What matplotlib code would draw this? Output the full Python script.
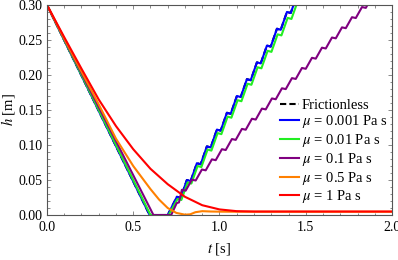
import matplotlib
matplotlib.use('Agg')
import matplotlib.pyplot as plt
from matplotlib.ticker import MultipleLocator, FormatStrFormatter

plt.rcParams['font.family'] = ['Liberation Serif', 'DejaVu Serif']
plt.rcParams['mathtext.fontset'] = 'stix'

# h(t) curves
blue_t = [0.0, 0.595, 0.700,
          0.753, 0.775, 0.811, 0.833, 0.869, 0.891, 0.927, 0.949, 0.985, 1.007,
          1.043, 1.065, 1.101, 1.123, 1.159, 1.181, 1.217, 1.239, 1.275, 1.297,
          1.333, 1.355, 1.391, 1.413, 1.449]
blue_h = [0.300, 0.000, 0.000,
          0.026, 0.0245, 0.050, 0.0485, 0.074, 0.0725, 0.098, 0.0965, 0.122, 0.1205,
          0.146, 0.1445, 0.170, 0.1685, 0.194, 0.1925, 0.218, 0.2165, 0.242, 0.2405,
          0.266, 0.2645, 0.290, 0.2885, 0.314]

green_t = [0.0, 0.600, 0.705,
           0.757, 0.779, 0.815, 0.837, 0.873, 0.895, 0.931, 0.953, 0.989, 1.011,
           1.047, 1.069, 1.105, 1.127, 1.163, 1.185, 1.221, 1.243, 1.279, 1.301,
           1.337, 1.359, 1.395, 1.417, 1.453]
green_h = [0.300, 0.000, 0.000,
           0.023, 0.0215, 0.0465, 0.045, 0.070, 0.0685, 0.0935, 0.092, 0.117, 0.1155,
           0.1405, 0.139, 0.164, 0.1625, 0.1875, 0.186, 0.211, 0.2095, 0.2345, 0.233,
           0.258, 0.2565, 0.2815, 0.280, 0.305]

purple_t = [0.0, 0.617, 0.720, 0.752, 0.765,
            0.782, 0.804, 0.840, 0.862, 0.898, 0.920, 0.956, 0.978, 1.014, 1.036,
            1.072, 1.094, 1.130, 1.152, 1.188, 1.210, 1.246, 1.268, 1.304, 1.326,
            1.362, 1.384, 1.420, 1.442, 1.478, 1.500, 1.536, 1.558, 1.594, 1.616,
            1.652, 1.674, 1.710, 1.732, 1.768, 1.790, 1.826, 1.848, 1.884]
purple_h = [0.300, 0.000, 0.000, 0.017, 0.018,
            0.036, 0.0348, 0.0505, 0.0493, 0.065, 0.0638, 0.0795, 0.0783, 0.094, 0.0928,
            0.1085, 0.1073, 0.123, 0.1218, 0.1375, 0.1363, 0.152, 0.1508, 0.1665, 0.1653,
            0.181, 0.1798, 0.1955, 0.1943, 0.210, 0.2088, 0.2245, 0.2233, 0.239, 0.2378,
            0.2535, 0.2523, 0.268, 0.2668, 0.2825, 0.2813, 0.297, 0.2958, 0.3115]

orange_t = [0.0, 0.1, 0.2, 0.3, 0.4, 0.5, 0.6, 0.65, 0.7, 0.75, 0.8, 0.83, 0.86,
            0.9, 0.95, 1.0, 1.1, 2.0]
orange_h = [0.300, 0.252, 0.205, 0.158, 0.109, 0.070, 0.037, 0.022, 0.010, 0.003,
            0.0005, 0.001, 0.004, 0.0055, 0.005, 0.0048, 0.0047, 0.0047]

red_t = [0.0, 0.1, 0.2, 0.3, 0.4, 0.5, 0.6, 0.7, 0.8, 0.9, 1.0, 1.1, 1.2, 2.0]
red_h = [0.300, 0.254, 0.209, 0.165, 0.127, 0.094, 0.066, 0.044, 0.026, 0.014,
         0.008, 0.0055, 0.005, 0.005]

# frictionless curve sits under the blue one
fric_t = blue_t
fric_h = blue_h

labels = ['Frictionless', r'$\mu$ = 0.001 Pa s', r'$\mu$ = 0.01 Pa s',
          r'$\mu$ = 0.1 Pa s', r'$\mu$ = 0.5 Pa s', r'$\mu$ = 1 Pa s']

fig = plt.figure(figsize=(3.98, 2.60), dpi=100)
ax = fig.add_axes([0.118, 0.173, 0.867, 0.808])

lw = 1.5
ax.plot(fric_t, fric_h, color='black', lw=lw, ls=(0, (3, 1.5)), label=labels[0])
ax.plot(blue_t, blue_h, color='#0000ff', lw=lw, label=labels[1])
ax.plot(green_t, green_h, color='#22ee22', lw=lw, label=labels[2])
ax.plot(purple_t, purple_h, color='#800080', lw=lw, label=labels[3])
ax.plot(orange_t, orange_h, color='#ff8000', lw=lw, label=labels[4])
ax.plot(red_t, red_h, color='#ff0000', lw=lw, label=labels[5])

ax.set_xlim(0, 2.0)
ax.set_ylim(0, 0.30)
ax.xaxis.set_major_locator(MultipleLocator(0.5))
ax.xaxis.set_minor_locator(MultipleLocator(0.1))
ax.yaxis.set_major_locator(MultipleLocator(0.05))
ax.yaxis.set_minor_locator(MultipleLocator(0.01))
ax.xaxis.set_major_formatter(FormatStrFormatter('%.1f'))
ax.yaxis.set_major_formatter(FormatStrFormatter('%.2f'))

for s in ax.spines.values():
    s.set_color('#555555')
    s.set_linewidth(0.8)
ax.tick_params(which='both', direction='in', top=True, right=True,
               color='#777777', width=0.6, labelsize=10, labelcolor='black')
ax.tick_params(which='major', length=3.2)
ax.tick_params(which='minor', length=1.8)
ax.tick_params(axis='x', which='major', pad=4.5)
ax.tick_params(axis='y', which='major', pad=3)

ax.set_xlabel(r'$t$ [s]', fontsize=10.5)
ax.set_ylabel(r'$h$ [m]', fontsize=10.5)
ax.xaxis.set_label_coords(0.5, -0.125)
ax.yaxis.set_label_coords(-0.087, 0.5)

ax.legend(loc='upper left', bbox_to_anchor=(0.675, 0.555), frameon=False,
          fontsize=10.5, handlelength=1.3, handletextpad=0.2, labelspacing=0.12,
          borderaxespad=0, borderpad=0)

fig.savefig('out.png', dpi=100)
